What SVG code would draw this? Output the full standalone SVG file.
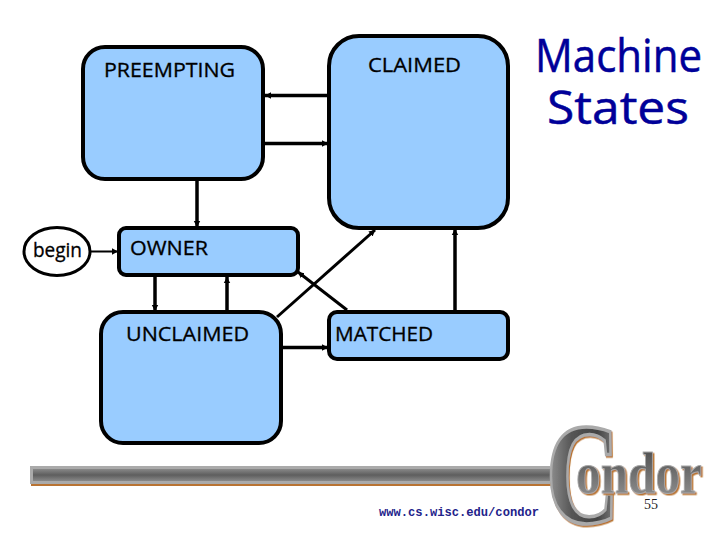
<svg xmlns="http://www.w3.org/2000/svg" width="720" height="540" viewBox="0 0 720 540">
<style>
.st{fill:#99ccff;stroke:#000;stroke-width:4}
.lb{font-family:"Open Sans","DejaVu Sans",sans-serif;font-size:20px;fill:#000;stroke:#000;stroke-width:.3}
.c{fill:none;stroke:#000;stroke-width:3.5}
.ti{font-family:"Open Sans","DejaVu Sans",sans-serif;font-size:46px;fill:#000099;stroke:#000099;stroke-width:.5}
.lg{font-family:"Liberation Serif",serif;font-weight:bold}
</style>
<defs>
<marker id="a" markerUnits="userSpaceOnUse" markerWidth="8" markerHeight="8" refX="6" refY="4" orient="auto"><path d="M0 .8L6 4L0 7.200Z" fill="#000"/></marker>
<linearGradient id="bar" x1="0" y1="0" x2="0" y2="1"><stop offset="0" stop-color="#888"/><stop offset=".5" stop-color="#5e5e5e"/><stop offset="1" stop-color="#888"/></linearGradient>
<linearGradient id="cg" x1="0" y1="0" x2="1" y2="0"><stop offset="0" stop-color="#999"/><stop offset=".35" stop-color="#555"/><stop offset=".7" stop-color="#444"/><stop offset="1" stop-color="#888"/></linearGradient>
<linearGradient id="og" x1="0" y1="0" x2="0" y2="1"><stop offset="0" stop-color="#444"/><stop offset="1" stop-color="#999"/></linearGradient>
<filter id="sh" x="-10%" y="-10%" width="120%" height="120%"><feDropShadow dx="1.500" dy="1.500" stdDeviation="0" flood-color="#b87333"/></filter>
</defs>
<rect width="720" height="540" fill="#fff"/>
<g id="logo">
<rect x="31" y="469" width="520" height="17" fill="#b87333"/>
<rect x="30" y="466" width="520" height="18" fill="#aaa"/>
<rect x="33" y="469" width="517" height="12" fill="url(#bar)"/>
<text class="lg" font-size="145" transform="translate(546,523) scale(.7,1)" fill="url(#cg)" stroke="#aaa" stroke-width="3.500" filter="url(#sh)">C</text>
<text class="lg" x="576" y="493" font-size="60" textLength="126" lengthAdjust="spacingAndGlyphs" fill="url(#og)" stroke="#aaa" stroke-width="1" filter="url(#sh)">ondor</text>
<text x="379" y="516" font-family="Liberation Mono,monospace" font-weight="bold" font-size="13.200px" fill="#22228a" textLength="160" lengthAdjust="spacingAndGlyphs">www.cs.wisc.edu/condor</text>
<text x="644" y="509" font-family="Liberation Serif,serif" font-size="14px" fill="#222">55</text>
</g>
<g id="connectors">
<path class="c" marker-end="url(#a)" d="M329 95.500H265"/>
<path class="c" marker-end="url(#a)" d="M264 143.500H328"/>
<path class="c" marker-end="url(#a)" d="M197 180V227"/>
<path class="c" style="stroke-width:2" marker-end="url(#a)" d="M91 251.500H118"/>
<path class="c" marker-end="url(#a)" d="M155 277V311"/>
<path class="c" marker-end="url(#a)" d="M227 311V277"/>
<path class="c" marker-end="url(#a)" d="M282 347.500H328"/>
<path class="c" style="stroke-width:3" marker-end="url(#a)" d="M277 317L375 230"/>
<path class="c" style="stroke-width:3" marker-end="url(#a)" d="M347 310L298 272"/>
<path class="c" marker-end="url(#a)" d="M455 311V229"/>
</g>
<g id="preempting"><rect class="st" x="83" y="47" width="180" height="132" rx="22"/><text class="lb" x="104" y="77" textLength="131" lengthAdjust="spacingAndGlyphs">PREEMPTING</text></g>
<g id="claimed"><rect class="st" x="329" y="36" width="179" height="192" rx="30"/><text class="lb" x="368" y="72" textLength="93" lengthAdjust="spacingAndGlyphs">CLAIMED</text></g>
<g id="begin"><ellipse cx="57" cy="251.500" rx="33" ry="24" fill="#fff" stroke="#000" stroke-width="3"/><text class="lb" x="33" y="257" textLength="49" lengthAdjust="spacingAndGlyphs" font-size="18">begin</text></g>
<g id="owner"><rect class="st" x="119" y="228" width="179" height="47" rx="7"/><text class="lb" x="130" y="255" textLength="78" lengthAdjust="spacingAndGlyphs">OWNER</text></g>
<g id="unclaimed"><rect class="st" x="101" y="312" width="180" height="131" rx="22"/><text class="lb" x="126" y="341" textLength="123" lengthAdjust="spacingAndGlyphs">UNCLAIMED</text></g>
<g id="matched"><rect class="st" x="329" y="312" width="179" height="47" rx="8"/><text class="lb" x="335" y="341" textLength="98" lengthAdjust="spacingAndGlyphs">MATCHED</text></g>
<g id="title"><text class="ti" x="535" y="72" textLength="167" lengthAdjust="spacingAndGlyphs">Machine</text><text class="ti" x="547" y="124" textLength="142" lengthAdjust="spacingAndGlyphs">States</text></g>
</svg>
